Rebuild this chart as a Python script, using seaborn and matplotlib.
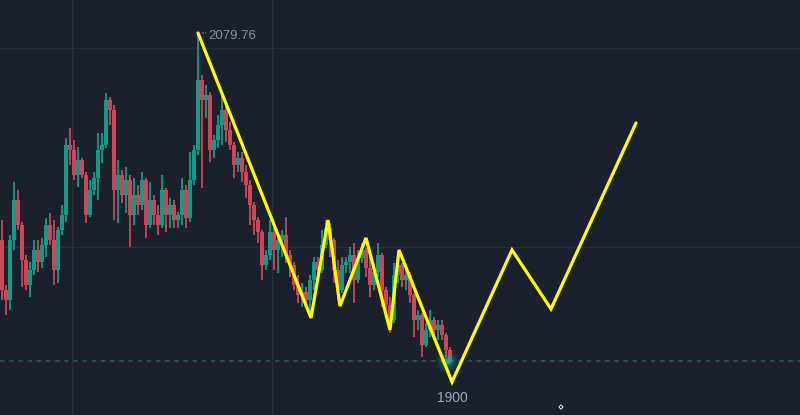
import numpy as np
import pandas as pd
import matplotlib
matplotlib.use("Agg")
import matplotlib.pyplot as plt
import seaborn as sns

# ---- candle data ----
open_ = [1973.1, 1947.4, 1942.2, 1973.1, 1993.7, 1980.9, 1962.8, 1950.0, 1957.7, 1968.0,
         1961.8, 1970.6, 1980.9, 1973.1, 1957.7, 1978.3, 1986.0, 2022.1, 2019.5, 2006.6,
         2014.3, 2006.6, 1986.0, 1998.9, 2005.1, 2019.5, 2022.1, 2045.3, 2040.1, 1998.9,
         2006.6, 1996.3, 2004.0, 1986.0, 1996.3, 1991.2, 2004.0, 1980.9, 1993.7, 1986.0,
         1980.9, 1998.9, 1986.0, 1991.2, 1983.4, 1986.0, 1998.9, 1984.5, 2004.0, 2019.5,
         2055.6, 2045.3, 2047.8, 2019.5, 2024.6, 2032.4, 2040.1, 2029.8, 2022.1, 2011.8,
         2015.4, 2008.2, 2001.5, 1991.2, 1983.4, 1977.3, 1960.3, 1965.4, 1977.3, 1968.0,
         1973.1, 1975.7, 1965.4, 1960.3, 1950.0, 1944.8, 1946.4, 1942.2, 1952.5, 1961.8,
         1957.7, 1970.6, 1979.3, 1973.1, 1957.7, 1947.4, 1960.3, 1961.8, 1965.4, 1952.5,
         1963.9, 1968.0, 1958.7, 1950.0, 1956.7, 1965.4, 1947.4, 1939.7, 1931.9, 1955.1,
         1960.3, 1952.5, 1955.1, 1944.8, 1931.9, 1934.5, 1919.1, 1926.8, 1931.9, 1926.8,
         1929.4, 1924.2, 1916.5]
high = [1983.4, 1950.0, 1975.7, 2003.0, 1998.9, 1982.4, 1965.4, 1961.8, 1973.1, 1973.1,
        1974.2, 1984.5, 1987.0, 1983.4, 1979.8, 1991.2, 2025.7, 2030.8, 2024.6, 2021.0,
        2015.4, 2008.2, 2004.0, 2008.2, 2028.3, 2028.3, 2048.9, 2046.8, 2042.7, 2014.3,
        2009.2, 2010.7, 2006.6, 2005.1, 2001.5, 2008.2, 2005.1, 2003.0, 1996.3, 1991.2,
        2006.6, 1999.9, 1994.8, 1993.7, 1987.6, 2005.1, 2001.5, 2018.5, 2022.1, 2079.76,
        2058.1, 2053.0, 2049.4, 2027.2, 2037.5, 2047.8, 2042.7, 2033.9, 2023.6, 2018.5,
        2018.5, 2011.8, 2004.0, 1992.7, 1985.0, 1978.3, 1968.0, 1983.4, 1979.3, 1976.7,
        1978.3, 1985.0, 1968.0, 1961.8, 1955.1, 1951.0, 1948.9, 1955.1, 1964.4, 1964.4,
        1978.3, 1983.4, 1981.9, 1974.2, 1962.8, 1964.4, 1964.4, 1969.5, 1971.6, 1968.0,
        1971.6, 1969.0, 1968.0, 1961.3, 1971.6, 1966.4, 1948.9, 1943.8, 1961.3, 1964.4,
        1961.3, 1957.7, 1956.7, 1945.8, 1937.1, 1935.5, 1930.4, 1937.1, 1933.5, 1931.9,
        1931.9, 1925.2, 1918.0]
low = [1942.2, 1934.5, 1937.1, 1968.0, 1978.3, 1948.9, 1947.4, 1943.8, 1955.1, 1956.7,
       1958.7, 1964.4, 1970.6, 1950.0, 1951.0, 1975.7, 1982.4, 2011.8, 2004.0, 2000.4,
       2005.1, 1981.9, 1985.0, 1996.3, 1993.7, 2012.8, 2020.5, 2032.4, 1983.4, 1981.9,
       1992.2, 1987.0, 1969.5, 1980.9, 1986.0, 1988.6, 1974.2, 1979.3, 1980.9, 1975.7,
       1979.3, 1977.3, 1979.3, 1979.3, 1979.3, 1980.9, 1979.3, 1982.4, 2001.5, 2016.9,
       1999.9, 2036.0, 2013.3, 2015.4, 2020.5, 2022.1, 2023.6, 2019.5, 2005.1, 2008.2,
       2003.0, 1994.8, 1980.9, 1975.7, 1971.6, 1952.5, 1957.7, 1962.8, 1957.7, 1956.1,
       1964.4, 1961.3, 1954.1, 1947.4, 1940.7, 1938.6, 1940.2, 1933.5, 1947.4, 1954.1,
       1956.1, 1969.0, 1964.4, 1951.0, 1942.2, 1945.8, 1956.1, 1956.1, 1940.7, 1951.0,
       1961.3, 1954.1, 1943.8, 1947.4, 1954.1, 1938.6, 1933.5, 1925.2, 1930.4, 1951.0,
       1948.9, 1947.4, 1940.7, 1923.2, 1926.8, 1912.9, 1918.0, 1923.2, 1923.2, 1921.6,
       1921.6, 1912.9, 1909.8]
close = [1947.4, 1942.2, 1973.1, 1993.7, 1980.9, 1962.8, 1950.0, 1957.7, 1968.0, 1961.8,
         1970.6, 1980.9, 1973.1, 1957.7, 1978.3, 1986.0, 2022.1, 2019.5, 2006.6, 2014.3,
         2006.6, 1986.0, 1998.9, 2005.1, 2019.5, 2022.1, 2045.3, 2040.1, 1998.9, 2006.6,
         1996.3, 2004.0, 1986.0, 1996.3, 1991.2, 2004.0, 1980.9, 1993.7, 1986.0, 1980.9,
         1998.9, 1986.0, 1991.2, 1983.4, 1986.0, 1998.9, 1984.5, 2004.0, 2019.5, 2055.6,
         2045.3, 2047.8, 2019.5, 2024.6, 2032.4, 2040.1, 2029.8, 2022.1, 2011.8, 2015.4,
         2008.2, 2001.5, 1991.2, 1983.4, 1977.3, 1960.3, 1965.4, 1977.3, 1968.0, 1973.1,
         1975.7, 1965.4, 1960.3, 1950.0, 1944.8, 1946.4, 1942.2, 1952.5, 1961.8, 1957.7,
         1970.6, 1979.3, 1973.1, 1957.7, 1947.4, 1960.3, 1961.8, 1965.4, 1952.5, 1963.9,
         1968.0, 1958.7, 1950.0, 1956.7, 1965.4, 1947.4, 1939.7, 1931.9, 1955.1, 1960.3,
         1952.5, 1955.1, 1944.8, 1931.9, 1934.5, 1919.1, 1926.8, 1931.9, 1926.8, 1929.4,
         1924.2, 1916.5, 1910.8]

# ---- hand-drawn projection (yellow) ----
wave_idx = [49, 77.25, 81.5, 84.5, 91, 97, 99.25, 112.5, 127.5, 137.25, 158.5]
wave_price = [2079.76, 1933.0, 1983.4, 1939.1, 1974.2, 1926.8, 1968.0, 1900.0, 1968.0, 1937.6, 2033.4]

peak_label = "2079.76"
target_label = "1900"
last_price = 1910.8

# ---- styling ----
BG = "#1b202d"
GRID = "#262e3c"
UP = "#129a88"
DOWN = "#cc4657"

sns.set_theme(style="dark", rc={"axes.facecolor": BG, "figure.facecolor": BG})
plt.rcParams["font.family"] = ["Liberation Sans", "DejaVu Sans"]

df = pd.DataFrame({"open": open_, "high": high, "low": low, "close": close})
df["idx"] = np.arange(len(df))
df["up"] = df["close"] >= df["open"]

fig = plt.figure(figsize=(8.0, 4.15), dpi=100)
ax = fig.add_axes([0, 0, 1, 1])
ax.set_facecolor(BG)

ax.set_xlim(-0.5, 199.5)
ax.set_ylim(1882.99, 2096.76)
ax.set_xticks([17.5, 67.5])
ax.set_yticks([1969.5, 2072.0])
ax.grid(True, color=GRID, linewidth=1)
ax.tick_params(length=0, labelbottom=False, labelleft=False)
for s in ax.spines.values():
    s.set_visible(False)

colors = np.where(df["up"], UP, DOWN)
ax.vlines(df["idx"], df["low"], df["high"], colors=colors, linewidth=1.3, zorder=2)
body_lo = np.minimum(df["open"], df["close"])
body_h = np.maximum(np.abs(df["close"] - df["open"]), 0.8)
ax.bar(df["idx"], body_h, bottom=body_lo, width=0.85, color=colors, linewidth=0, zorder=3)

# last price dashed line
ax.axhline(last_price, color="#1f5b59", linewidth=1.1, linestyle=(0, (3, 3)), zorder=1)

# glow on last candle
last_i = df["idx"].iloc[-1] - 0.7
for s, a in [(300, 0.08), (180, 0.12), (90, 0.22), (35, 0.45), (10, 0.8)]:
    ax.scatter([last_i], [last_price], s=s, color="#17b8a0", alpha=a, linewidths=0, zorder=4)

# yellow projection
wave = pd.DataFrame({"x": wave_idx, "y": wave_price})
sns.lineplot(data=wave, x="x", y="y", sort=False, color="#ffff00", linewidth=2.3,
             ax=ax, zorder=5, solid_joinstyle="miter")
ax.set_xlabel("")
ax.set_ylabel("")

# labels
ax.text(wave_idx[0] + 0.5, wave_price[0] - 1.2, "ˈˈˈ", color="#8d919b", fontsize=6,
        ha="left", va="center", zorder=6, family=["DejaVu Sans"])
ax.text(wave_idx[0] + 2.7, wave_price[0] - 1.6, peak_label, color="#8d919b", fontsize=9.5,
        ha="left", va="center", zorder=6)
ax.text(wave_idx[7], wave_price[7] - 8.2, target_label, color="#a3a7b0", fontsize=10,
        ha="center", va="center", zorder=6)

# tiny cursor marker
ax.scatter([139.75], [1887.1], marker="D", s=5, facecolors="none", edgecolors="white",
           linewidths=0.6, zorder=6)

fig.savefig("out.png", dpi=100, facecolor=BG)
